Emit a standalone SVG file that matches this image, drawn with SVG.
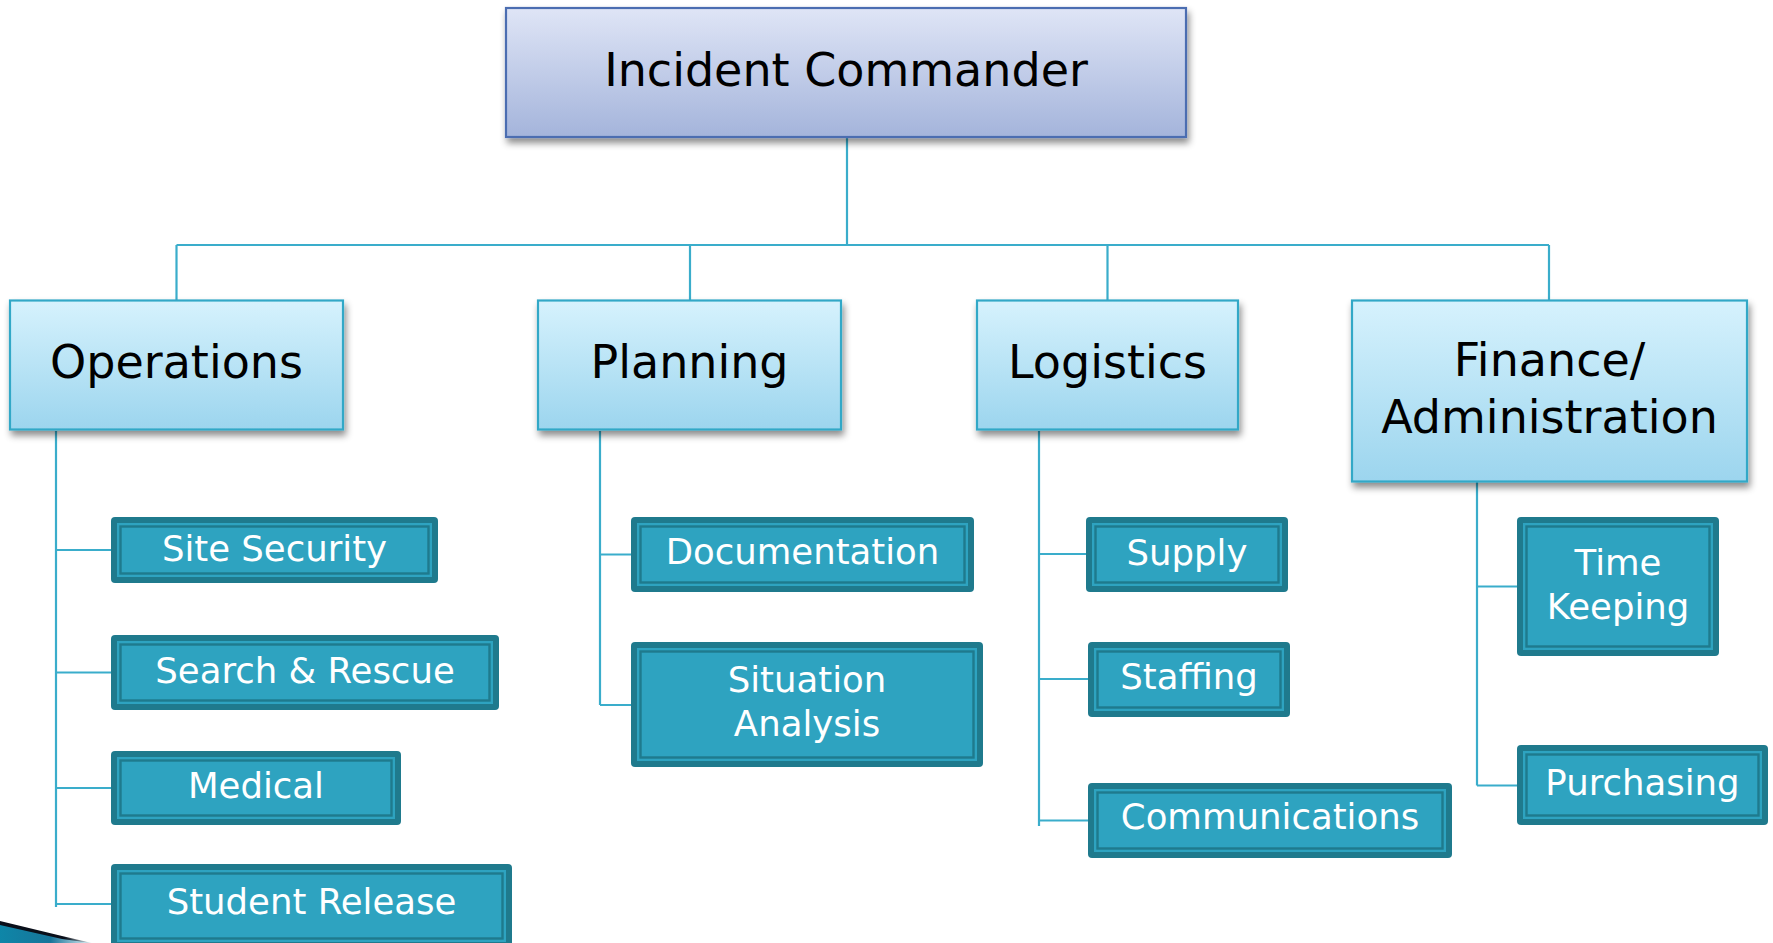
<svg xmlns="http://www.w3.org/2000/svg" width="1773" height="943" viewBox="0 0 1773 943">
<defs>
<linearGradient id="gIC" x1="0" y1="0" x2="0" y2="1"><stop offset="0" stop-color="#dfe5f6"/><stop offset="1" stop-color="#a4b4db"/></linearGradient>
<linearGradient id="gL2" x1="0" y1="0" x2="0" y2="1"><stop offset="0" stop-color="#d6f2fd"/><stop offset="1" stop-color="#9cd5ee"/></linearGradient>
<linearGradient id="gSw" x1="0" y1="0" x2="1" y2="0"><stop offset="0" stop-color="#0e86a8"/><stop offset="0.55" stop-color="#17759a"/><stop offset="1" stop-color="#e8f4f8"/></linearGradient>
<linearGradient id="gSl" x1="0" y1="0" x2="1" y2="0"><stop offset="0" stop-color="#0a0f1a"/><stop offset="0.7" stop-color="#0a0f1a"/><stop offset="1" stop-color="#0a0f1a" stop-opacity="0"/></linearGradient>
<filter id="sh" x="-10%" y="-10%" width="125%" height="135%"><feDropShadow dx="2" dy="5" stdDeviation="3.5" flood-color="#000" flood-opacity="0.45"/></filter>
</defs>
<style>
.ic{fill:url(#gIC);stroke:#4b6db1;stroke-width:2.2}
.l2{fill:url(#gL2);stroke:#33a8c7;stroke-width:2.2}
.t2{font-family:"DejaVu Sans",sans-serif;font-size:46px;fill:#000;text-anchor:middle}
.o{fill:#1f7a8d}
.i{fill:#2ea3c0}
.ln{fill:none;stroke:#1f7a8d;stroke-width:2.4}
.t3{font-family:"DejaVu Sans",sans-serif;font-size:35.5px;fill:#fff;text-anchor:middle}
.c{fill:none;stroke:#3aadcb;stroke-width:2.2}
</style>
<rect width="1773" height="943" fill="#fff"/>

<g id="connectors">
<path class="c" d="M847 137V245M176.5 245H1549M176.5 245V300.5M690 245V300.5M1107.5 245V300.5M1549 245V300.5"/>
<path class="c" d="M56 431V907M56 550H111M56 672.5H111M56 788H111M56 904H111"/>
<path class="c" d="M600 431V705M600 554.5H631M600 705H631"/>
<path class="c" d="M1039 431V826M1039 554H1086M1039 679H1088M1039 820.5H1088"/>
<path class="c" d="M1477 482V785.5M1477 586.5H1517M1477 785.5H1517"/>
</g>

<g id="incident-commander">
<rect class="ic" x="506" y="8" width="680" height="129" filter="url(#sh)"/>
<text class="t2" x="846" y="86">Incident Commander</text>
</g>

<g id="operations">
<rect class="l2" x="10" y="300.5" width="333" height="129" filter="url(#sh)"/>
<text class="t2" x="176.5" y="378">Operations</text>
</g>
<g id="planning">
<rect class="l2" x="538" y="300.5" width="303" height="129" filter="url(#sh)"/>
<text class="t2" x="689.5" y="378">Planning</text>
</g>
<g id="logistics">
<rect class="l2" x="977" y="300.5" width="261" height="129" filter="url(#sh)"/>
<text class="t2" x="1107.5" y="378">Logistics</text>
</g>
<g id="finance">
<rect class="l2" x="1352" y="300.5" width="395" height="181" filter="url(#sh)"/>
<text class="t2" x="1549.5" y="376">Finance/</text>
<text class="t2" x="1549.5" y="433">Administration</text>
</g>

<g id="site-security">
<rect class="o" x="111" y="517" width="327" height="66" rx="4"/>
<rect class="i" x="117" y="523" width="315" height="54"/>
<rect class="ln" x="120.5" y="526.5" width="308" height="47"/>
<text class="t3" x="274.5" y="561">Site Security</text>
</g>
<g id="search-rescue">
<rect class="o" x="111" y="635" width="388" height="75" rx="4"/>
<rect class="i" x="117" y="641" width="376" height="63"/>
<rect class="ln" x="120.5" y="644.5" width="369" height="56"/>
<text class="t3" x="305" y="683">Search &amp; Rescue</text>
</g>
<g id="medical">
<rect class="o" x="111" y="751" width="290" height="74" rx="4"/>
<rect class="i" x="117" y="757" width="278" height="62"/>
<rect class="ln" x="120.5" y="760.5" width="271" height="55"/>
<text class="t3" x="256" y="797.5">Medical</text>
</g>
<g id="student-release">
<rect class="o" x="111" y="864" width="401" height="84" rx="4"/>
<rect class="i" x="117" y="870" width="389" height="72"/>
<rect class="ln" x="120.5" y="873.5" width="382" height="65"/>
<text class="t3" x="311.5" y="914">Student Release</text>
</g>

<g id="documentation">
<rect class="o" x="631" y="517" width="343" height="75" rx="4"/>
<rect class="i" x="637" y="523" width="331" height="63"/>
<rect class="ln" x="640.5" y="526.5" width="324" height="56"/>
<text class="t3" x="802.5" y="564">Documentation</text>
</g>
<g id="situation-analysis">
<rect class="o" x="631" y="642" width="352" height="125" rx="4"/>
<rect class="i" x="637" y="648" width="340" height="113"/>
<rect class="ln" x="640.5" y="651.5" width="333" height="106"/>
<text class="t3" x="807" y="692">Situation</text>
<text class="t3" x="807" y="736">Analysis</text>
</g>

<g id="supply">
<rect class="o" x="1086" y="517" width="202" height="75" rx="4"/>
<rect class="i" x="1092" y="523" width="190" height="63"/>
<rect class="ln" x="1095.5" y="526.5" width="183" height="56"/>
<text class="t3" x="1187" y="565">Supply</text>
</g>
<g id="staffing">
<rect class="o" x="1088" y="642" width="202" height="75" rx="4"/>
<rect class="i" x="1094" y="648" width="190" height="63"/>
<rect class="ln" x="1097.5" y="651.5" width="183" height="56"/>
<text class="t3" x="1189" y="689">Staffing</text>
</g>
<g id="communications">
<rect class="o" x="1088" y="783" width="364" height="75" rx="4"/>
<rect class="i" x="1094" y="789" width="352" height="63"/>
<rect class="ln" x="1097.5" y="792.5" width="345" height="56"/>
<text class="t3" x="1270" y="829">Communications</text>
</g>

<g id="time-keeping">
<rect class="o" x="1517" y="517" width="202" height="139" rx="4"/>
<rect class="i" x="1523" y="523" width="190" height="127"/>
<rect class="ln" x="1526.5" y="526.5" width="183" height="120"/>
<text class="t3" x="1618" y="575">Time</text>
<text class="t3" x="1618" y="619">Keeping</text>
</g>
<g id="purchasing">
<rect class="o" x="1517" y="745" width="251" height="80" rx="4"/>
<rect class="i" x="1523" y="751" width="239" height="68"/>
<rect class="ln" x="1526.5" y="754.5" width="232" height="61"/>
<text class="t3" x="1642.5" y="795">Purchasing</text>
</g>

<g id="corner-swoosh">
<polygon points="0,923 60,937 92,943 0,943" fill="url(#gSw)"/>
<polygon points="0,921 62,936 92,943 62,939 0,925" fill="url(#gSl)"/>
</g>
</svg>
